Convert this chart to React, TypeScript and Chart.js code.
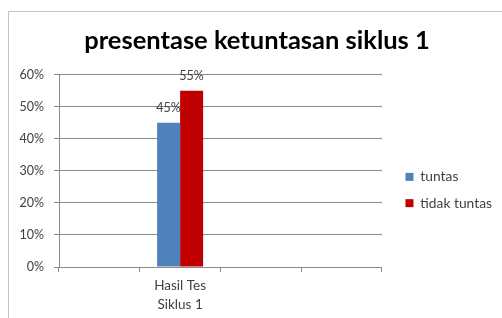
import { useEffect, useRef } from "react";
import { Chart, registerables } from "chart.js";

Chart.register(...registerables);

const TITLE = "presentase ketuntasan siklus 1";
const categories: (string | string[])[] = ["", ["Hasil Tes", "Siklus 1"], "", ""];
const seriesNames = ["tuntas", "tidak tuntas"];
const tuntas: (number | null)[] = [null, 45, null, null];
const tidakTuntas: (number | null)[] = [null, 55, null, null];
const seriesColors = ["#4F81BD", "#C00000"];
const yMin = 0;
const yMax = 60;
const yStep = 10;

const FONT = "Lato, 'Open Sans', sans-serif";
const TEXT = "#404040";
const GRID = "#8a8a8a";

const framePlugin = {
  id: "frame",
  beforeDraw(chart: any) {
    const { ctx, width, height } = chart;
    ctx.save();
    ctx.fillStyle = "#ffffff";
    ctx.fillRect(0, 0, width, height);
    ctx.strokeStyle = "#c4c4c4";
    ctx.lineWidth = 1;
    ctx.strokeRect(8.5, 11.5, width + 50, height + 50);
    ctx.restore();
  },
};

const valueLabels = {
  id: "valueLabels",
  afterDatasetsDraw(chart: any) {
    const ctx = chart.ctx;
    ctx.save();
    ctx.font = `12.5px ${FONT}`;
    ctx.fillStyle = TEXT;
    ctx.textAlign = "center";
    ctx.textBaseline = "middle";
    chart.data.datasets.forEach((ds: any, i: number) => {
      const meta = chart.getDatasetMeta(i);
      meta.data.forEach((el: any, j: number) => {
        const v = ds.data[j];
        if (v == null) return;
        ctx.fillText(`${v}%`, el.x, el.y - 15);
      });
    });
    ctx.restore();
  },
};

export default function App() {
  const ref = useRef<HTMLCanvasElement>(null);

  useEffect(() => {
    if (!ref.current) return;
    const chart = new Chart(ref.current, {
      type: "bar",
      data: {
        labels: categories,
        datasets: [
          {
            label: seriesNames[0],
            data: tuntas,
            backgroundColor: seriesColors[0],
            borderWidth: 0,
          },
          {
            label: seriesNames[1],
            data: tidakTuntas,
            backgroundColor: seriesColors[1],
            borderWidth: 0,
          },
        ],
      },
      options: {
        responsive: false,
        animation: false,
        layout: { padding: { left: 12, right: 0, top: 0, bottom: 0 } },
        datasets: {
          bar: { categoryPercentage: 0.57, barPercentage: 1 },
        },
        plugins: {
          tooltip: { enabled: false },
          title: {
            display: true,
            text: TITLE,
            color: "#000000",
            font: { family: FONT, size: 25.5, weight: "bold", lineHeight: 1.2 },
            padding: { top: 25, bottom: 19.2 },
          },
          legend: {
            position: "right",
            maxWidth: 200,
            title: {
              display: true,
              text: "",
              font: { size: 10, lineHeight: 1.2 },
              padding: { top: 0, bottom: 50 },
            },
            labels: {
              color: TEXT,
              font: { family: FONT, size: 13.8 },
              boxWidth: 8,
              boxHeight: 8,
              padding: 12.5,
            },
          },
        },
        scales: {
          x: {
            grid: {
              offset: true,
              drawOnChartArea: false,
              drawTicks: true,
              tickLength: 5,
              color: GRID,
            },
            border: { color: GRID },
            ticks: {
              color: TEXT,
              font: { family: FONT, size: 13.5, lineHeight: 1.35 },
              padding: 5,
              maxRotation: 0,
              autoSkip: false,
            },
            afterFit(s: any) {
              s.height = 51;
            },
          },
          y: {
            min: yMin,
            max: yMax,
            grid: { color: GRID, tickLength: 5 },
            border: { color: GRID },
            ticks: {
              stepSize: yStep,
              color: TEXT,
              font: { family: FONT, size: 12.5 },
              padding: 10,
              callback: (v: any) => `${v}%`,
            },
            afterFit(s: any) {
              s.width = 47;
            },
          },
          y2: {
            type: "linear",
            position: "right",
            grid: { display: false },
            border: { display: false },
            ticks: { display: false },
            afterFit(s: any) {
              s.width = 11;
            },
          },
        },
      } as any,
      plugins: [framePlugin, valueLabels],
    });
    return () => chart.destroy();
  }, []);

  return (
    <div style={{ position: "fixed", left: 0, top: 0, width: 502, height: 318 }}>
      <canvas ref={ref} width={502} height={318} style={{ display: "block" }} />
    </div>
  );
}
